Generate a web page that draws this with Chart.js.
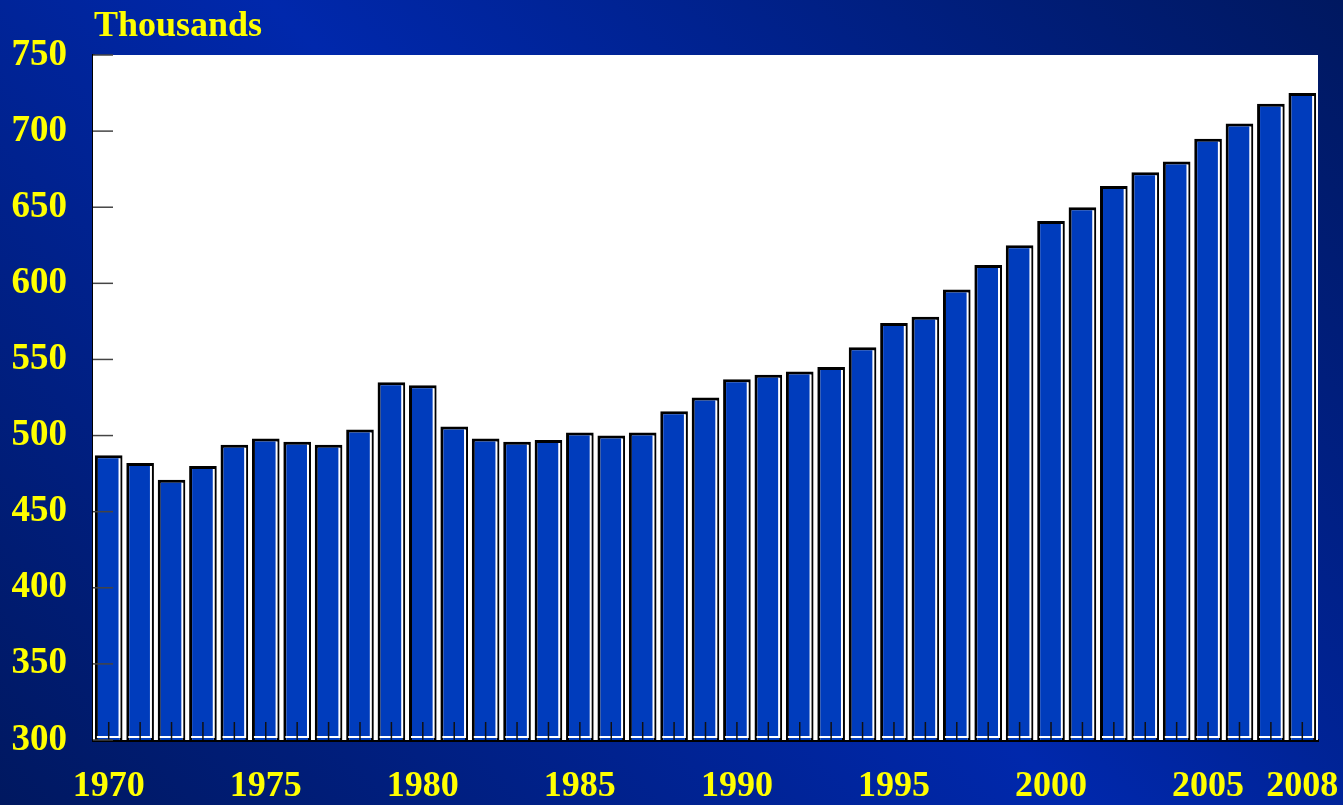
<!DOCTYPE html>
<html>
<head>
<meta charset="utf-8">
<script src="https://cdn.jsdelivr.net/npm/chart.js@4/dist/chart.umd.min.js"></script>
<style>
  html, body { margin: 0; padding: 0; }
  body {
    width: 1343px; height: 805px; overflow: hidden;
    background: linear-gradient(45deg, #001860 0%, #0028ac 50%, #001860 100%);
  }
  #wrap { position: relative; width: 1343px; height: 805px; }
</style>
</head>
<body>
<div id="wrap"><canvas id="chart" width="1343" height="805"></canvas></div>
<script>
// years on the x axis
const years = [1970, 1971, 1972, 1973, 1974, 1975, 1976, 1977, 1978, 1979,
  1980, 1981, 1982, 1983, 1984, 1985, 1986, 1987, 1988, 1989,
  1990, 1991, 1992, 1993, 1994, 1995, 1996, 1997, 1998, 1999,
  2000, 2001, 2002, 2003, 2004, 2005, 2006, 2007, 2008];

// values in thousands
const values = [487, 482, 471, 480, 494, 498, 496, 494, 504, 535,
  533, 506, 498, 496, 497, 502, 500, 502, 516, 525,
  537, 540, 542, 545, 558, 574, 578, 596, 612, 625,
  641, 650, 664, 673, 680, 695, 705, 718, 725];

// years that get a label
const shownYears = [1970, 1975, 1980, 1985, 1990, 1995, 2000, 2005, 2008];

const yMin = 300, yMax = 750, yStep = 50;
const unitLabel = "Thousands";

const yellow = "#ffff00";
const serif = "'Liberation Serif', 'Times New Roman', serif";

// white highlight inside each bar, small inner tick marks, unit label
const decor = {
  id: "decor",
  afterDatasetsDraw(chart) {
    const ctx = chart.ctx;
    const area = chart.chartArea;
    const meta = chart.getDatasetMeta(0);
    ctx.save();
    ctx.strokeStyle = "#ffffff";
    ctx.lineWidth = 2;
    meta.data.forEach(bar => {
      const right = bar.x + bar.width / 2 - 3;
      const left = bar.x - bar.width / 2 + 2;
      const bottom = Math.min(bar.base, area.bottom) - 3;
      ctx.beginPath();
      ctx.moveTo(right, bar.y + 3);
      ctx.lineTo(right, bottom);
      ctx.lineTo(left, bottom);
      ctx.stroke();
    });
    // x ticks going up from the bottom
    ctx.strokeStyle = "#111111";
    ctx.lineWidth = 1.5;
    meta.data.forEach(bar => {
      ctx.beginPath();
      ctx.moveTo(bar.x, area.bottom);
      ctx.lineTo(bar.x, area.bottom - 18);
      ctx.stroke();
    });
    // y ticks going in from the left
    const ys = chart.scales.y;
    ctx.strokeStyle = "#444444";
    for (let v = yMin; v <= yMax; v += yStep) {
      const py = ys.getPixelForValue(v);
      ctx.beginPath();
      ctx.moveTo(area.left, py);
      ctx.lineTo(area.left + 20, py);
      ctx.stroke();
    }
    ctx.restore();
  },
  afterDraw(chart) {
    const ctx = chart.ctx;
    ctx.save();
    ctx.fillStyle = yellow;
    ctx.font = "bold 36px " + serif;
    ctx.textBaseline = "alphabetic";
    ctx.fillText(unitLabel, 94, 36);
    ctx.restore();
  }
};

// white plot area
const plotBg = {
  id: "plotBg",
  beforeDatasetsDraw(chart) {
    const a = chart.chartArea;
    chart.ctx.save();
    chart.ctx.fillStyle = "#ffffff";
    chart.ctx.fillRect(a.left, a.top, a.right - a.left, a.bottom - a.top);
    chart.ctx.restore();
  }
};

new Chart(document.getElementById("chart"), {
  type: "bar",
  data: {
    labels: years,
    datasets: [{
      data: values,
      backgroundColor: "#003cbc",
      borderColor: "#000000",
      borderWidth: 3,
      borderSkipped: false,
      categoryPercentage: 1,
      barPercentage: 0.88
    }]
  },
  options: {
    responsive: false,
    animation: false,
    devicePixelRatio: 1,
    layout: { padding: { top: 55, right: 25, left: 0, bottom: 0 } },
    plugins: { legend: { display: false }, tooltip: { enabled: false } },
    scales: {
      x: {
        grid: { display: false, drawTicks: false },
        border: { display: true, color: "#000000", width: 3 },
        afterFit(scale) {
          scale.height = 65;
          scale.paddingLeft = 0;
          scale.paddingRight = 0;
        },
        ticks: {
          autoSkip: false,
          maxRotation: 0,
          padding: 25,
          color: yellow,
          font: { family: serif, size: 36, weight: "bold" },
          callback(val, i) {
            const yr = years[i];
            return shownYears.includes(yr) ? String(yr) : "";
          }
        }
      },
      y: {
        min: yMin,
        max: yMax,
        grid: { display: false, drawTicks: false },
        border: { display: true, color: "#000000", width: 3 },
        afterFit(scale) {
          scale.width = 93;
          scale.paddingTop = 0;
          scale.paddingBottom = 0;
        },
        ticks: {
          stepSize: yStep,
          padding: 26,
          color: yellow,
          font: { family: serif, size: 37, weight: "bold" }
        }
      }
    }
  },
  plugins: [plotBg, decor]
});
</script>
</body>
</html>
